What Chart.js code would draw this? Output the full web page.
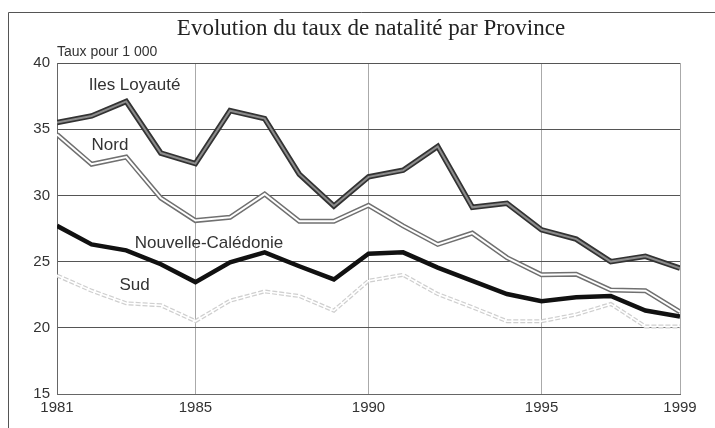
<!DOCTYPE html>
<html>
<head>
<meta charset="utf-8">
<script src="https://cdn.jsdelivr.net/npm/chart.js@4"></script>
<style>
    html, body { margin: 0; padding: 0; background: #fff; }
    #wrap { width: 715px; height: 428px; position: relative; }
</style>
</head>
<body>
<div id="wrap"><canvas id="natalite"></canvas></div>
<script>
const years = [1981, 1982, 1983, 1984, 1985, 1986, 1987, 1988, 1989, 1990,
               1991, 1992, 1993, 1994, 1995, 1996, 1997, 1998, 1999];
const ilesLoyaute = [35.5, 36.0, 37.1, 33.2, 32.4, 36.4, 35.8, 31.6, 29.2, 31.4,
                     31.9, 33.7, 29.1, 29.4, 27.4, 26.7, 25.0, 25.4, 24.5];
const nord = [34.6, 32.35, 32.9, 29.8, 28.1, 28.35, 30.1, 28.05, 28.05, 29.25,
              27.7, 26.3, 27.15, 25.3, 24.0, 24.05, 22.85, 22.8, 21.2];
const nouvelleCaledonie = [27.7, 26.3, 25.85, 24.8, 23.45, 24.95, 25.7, 24.65, 23.65, 25.6,
                           25.7, 24.55, 23.55, 22.55, 22.0, 22.3, 22.4, 21.3, 20.85];
const sud = [23.95, 22.8, 21.85, 21.7, 20.5, 22.05, 22.75, 22.4, 21.3, 23.55,
             24.0, 22.55, 21.55, 20.5, 20.5, 21.0, 21.8, 20.1, 20.1];
const xTicks = [1981, 1985, 1990, 1995, 1999];
const yTicks = [15, 20, 25, 30, 35, 40];
const seriesLabels = [
    { text: 'Iles Loyauté', x: 1983.24, y: 38.3 },
    { text: 'Nord', x: 1982.53, y: 33.8 },
    { text: 'Nouvelle-Calédonie', x: 1985.39, y: 26.4 },
    { text: 'Sud', x: 1983.24, y: 23.2 }
];

const narrow = "'Liberation Sans Narrow', 'Liberation Sans', Arial, sans-serif";

function points(values) {
    return values.map((v, i) => ({ x: years[i], y: v }));
}

// lower order is drawn on top
function line(values, color, width, order, dash) {
    return {
        data: points(values),
        borderColor: color,
        borderWidth: width,
        borderDash: dash || [],
        order: order,
        pointRadius: 0,
        fill: false,
        tension: 0,
        borderJoinStyle: 'miter'
    };
}

// page frame (top and left only), title and the labels next to each line
const decorations = {
    id: 'decorations',
    beforeDraw(chart) {
        const ctx = chart.ctx;
        ctx.save();
        ctx.strokeStyle = '#555';
        ctx.lineWidth = 1;
        ctx.beginPath();
        ctx.moveTo(8.5, 428);
        ctx.lineTo(8.5, 12.5);
        ctx.lineTo(715, 12.5);
        ctx.stroke();
        ctx.restore();
    },
    afterDraw(chart) {
        const ctx = chart.ctx;
        const xs = chart.scales.x;
        const ys = chart.scales.y;
        ctx.save();
        ctx.fillStyle = '#222';
        ctx.textBaseline = 'middle';
        ctx.textAlign = 'center';
        ctx.font = "23px 'Liberation Serif', 'DejaVu Serif', serif";
        ctx.fillText('Evolution du taux de natalité par Province', 371, 29);

        ctx.textAlign = 'left';
        ctx.fillStyle = '#333';
        ctx.font = '14px ' + narrow;
        ctx.fillText('Taux pour 1 000', 57, 52);

        ctx.textAlign = 'center';
        ctx.font = '17px ' + narrow;
        seriesLabels.forEach(l => {
            ctx.fillText(l.text, xs.getPixelForValue(l.x), ys.getPixelForValue(l.y));
        });
        ctx.restore();
    }
};

const contextNatalite = document.getElementById('natalite').getContext('2d');
const graphNatalite = new Chart(contextNatalite, {
    type: 'line',
    data: {
        datasets: [
            line(sud, '#cfcfcf', 4, 7, [5, 2]),
            line(sud, '#ffffff', 1.5, 6),
            line(nord, '#707070', 5, 5),
            line(nord, '#ffffff', 2, 4),
            line(ilesLoyaute, '#333333', 5.5, 3),
            line(ilesLoyaute, '#8c8c8c', 2, 2),
            line(nouvelleCaledonie, '#111111', 4.5, 1)
        ]
    },
    options: {
        responsive: true,
        maintainAspectRatio: false,
        animation: false,
        layout: {
            padding: { top: 63, right: 35, left: 0, bottom: 0 }
        },
        plugins: {
            legend: { display: false },
            tooltip: { enabled: false }
        },
        scales: {
            x: {
                type: 'linear',
                min: 1981,
                max: 1999,
                afterBuildTicks: (scale) => { scale.ticks = xTicks.map(v => ({ value: v })); },
                afterFit: (scale) => { scale.height = 34; },
                border: { color: '#666', width: 1 },
                grid: {
                    color: '#aaaaaa',
                    lineWidth: 1,
                    drawTicks: false
                },
                ticks: {
                    padding: 5,
                    color: '#333',
                    font: { family: narrow, size: 15 },
                    callback: (v) => String(v)
                }
            },
            y: {
                min: 15,
                max: 40,
                afterBuildTicks: (scale) => { scale.ticks = yTicks.map(v => ({ value: v })); },
                afterFit: (scale) => { scale.width = 57; },
                border: { color: '#666', width: 1 },
                grid: {
                    color: '#555555',
                    lineWidth: 1,
                    drawTicks: false
                },
                ticks: {
                    padding: 7,
                    color: '#333',
                    font: { family: narrow, size: 15 }
                }
            }
        }
    },
    plugins: [decorations]
});
</script>
</body>
</html>
